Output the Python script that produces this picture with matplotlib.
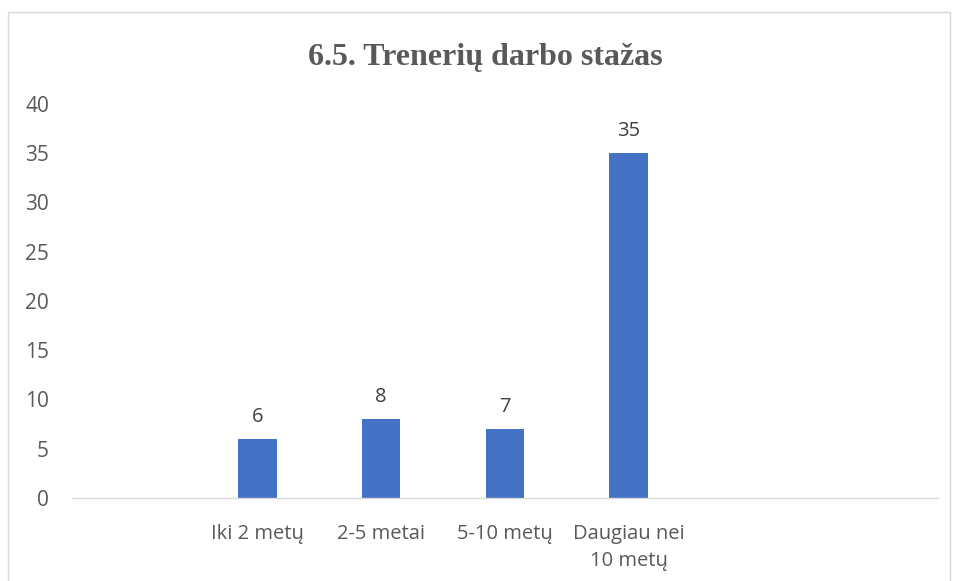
import matplotlib.pyplot as plt
from matplotlib.patches import Rectangle

# Categories (with empty slots as in the original Excel chart)
categories = ['', 'Iki 2 metų', '2-5 metai', '5-10 metų', 'Daugiau nei\n10 metų', '', '']
values = [0, 6, 8, 7, 35, 0, 0]
shown = [False, True, True, True, True, False, False]
y_ticks = [0, 5, 10, 15, 20, 25, 30, 35, 40]

plt.rcParams['font.family'] = ['Open Sans', 'DejaVu Sans']

fig = plt.figure(figsize=(9.54, 5.81), dpi=100)
ax = fig.add_axes([0.0755, 0.1429, 0.9075, 0.6781])

# chart border (bottom edge falls outside the picture)
fig.patches.append(Rectangle((8 / 954, -0.05), 942 / 954, 1 - 12 / 581 + 0.05,
                             transform=fig.transFigure, fill=False,
                             edgecolor='#d9d9d9', linewidth=1))

x = list(range(len(categories)))
bar_vals = [v if s else 0 for v, s in zip(values, shown)]
bars = ax.bar(x, bar_vals, width=0.31, color='#4472c4')

for xi, v, s in zip(x, values, shown):
    if s:
        ax.text(xi, v + 1.2, str(v), ha='center', va='bottom', fontsize=14.5, color='#404040')

ax.set_xlim(-0.5, len(categories) - 0.5)
ax.set_ylim(0, 40)
ax.set_yticks(y_ticks)
ax.set_xticks(x)
ax.set_xticklabels(categories, fontsize=14.5, color='#595959', linespacing=1.45)
ax.tick_params(axis='y', labelsize=15, labelcolor='#595959', length=0, pad=16.5)
ax.tick_params(axis='x', length=0, pad=19)

for side in ['top', 'right', 'left']:
    ax.spines[side].set_visible(False)
ax.spines['bottom'].set_color('#d9d9d9')
ax.spines['bottom'].set_linewidth(1)

fig.text(0.509, 1 - 58 / 581, '6.5. Trenerių darbo stažas', ha='center', va='center',
         fontsize=23, fontweight='bold', color='#595959', family='Liberation Serif')

fig.savefig('out.png', dpi=100)
